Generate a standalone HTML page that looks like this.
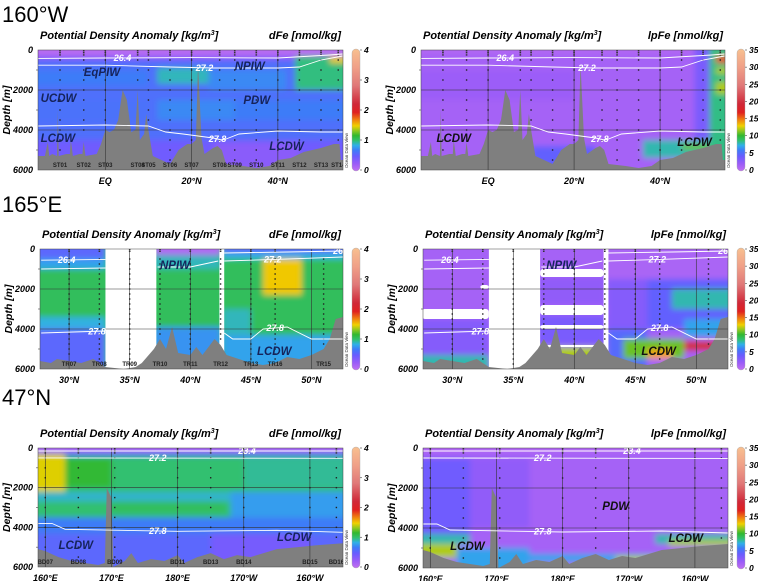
<!DOCTYPE html>
<html><head><meta charset="utf-8"><style>
html,body{margin:0;padding:0;background:#fff;width:758px;height:581px;overflow:hidden}
svg{display:block;font-family:"Liberation Sans",sans-serif}
</style></head><body>
<svg id="fig" width="758" height="581" viewBox="0 0 758 581" xmlns="http://www.w3.org/2000/svg">
<defs><filter id="blur" x="-5%" y="-5%" width="110%" height="110%"><feGaussianBlur stdDeviation="3"/></filter></defs>
<text x="2" y="22" font-size="22">160°W</text>
<text x="2" y="212" font-size="22">165°E</text>
<text x="2" y="405" font-size="22">47°N</text>
</svg>
<script>
// ---------- data ----------
const cmapStops=[[0,'#c070f0'],[0.06,'#9a5cf8'],[0.12,'#6a5cff'],[0.17,'#3e7cf8'],[0.21,'#30b0e8'],[0.25,'#30c070'],[0.29,'#30b830'],[0.33,'#90c820'],[0.37,'#f0d000'],[0.42,'#f08010'],[0.48,'#e02020'],[0.55,'#d02838'],[0.7,'#e07878'],[0.85,'#f0a088'],[1,'#f8c090']];

const depthTicks=[0,2000,4000,6000];
const dFeTicks=[0,1,2,3,4];
const lpFeTicks=[0,5,10,15,20,25,30,35];

// 160°W
const latTicks160=[0,20,40];
const latTickLabels160=['EQ','20°N','40°N'];
const st160Names=['ST01','ST02','ST03','ST04','ST05','ST06','ST07','ST08','ST09','ST10','ST11','ST12','ST13','ST14'];
const st160Lat=[-10.5,-5,0,7.5,10,15,20,26.5,30,35,40,45,50,54];
const bathy160Lat=[-15.6,-14,-13.3,-13,-12.3,-11.2,-11,-10.8,-9,-8.2,-8,-7.5,-6,-5.3,-5,-4.6,-2,-1,0,1,2,3,4,5,6,7,7.5,8,9,9.5,10,11,13,15,17,19,20,21,21.5,22.3,23,25,26,27,28,32,35,38,40,43,46,50,53,54.3,54.6,55.1];
const bathy160Dep=[5300,5300,4600,5300,5200,5300,3000,5300,5200,5200,4500,5300,5200,5200,4600,5300,5200,4700,4000,4100,4000,3500,2000,2500,4100,4000,2000,4500,4200,3200,4000,5300,5500,5700,5000,4700,4700,4500,700,4400,5200,4900,4800,5000,5700,5800,5900,5800,5500,5400,5100,4900,4700,4700,5500,5500];
const c160_264_lat=[-15.6,0,20,40,48,52,55];
const c160_264_dep=[420,400,380,400,300,250,200];
const c160_272_lat=[-15.6,0,15,25,40,45,50,55];
const c160_272_dep=[760,760,850,900,900,850,500,300];
const c160_278_lat=[-15.6,0,10,14,18,25,27,28,31,40,50,55];
const c160_278_dep=[3800,3750,3800,4100,4200,4400,4500,4450,4200,4050,4100,4100];
const f160dFe=[[-16,56,0,6000,0.6],[-16,56,0,300,0.05],[-16,56,300,520,0.35],[-16,10,1000,1800,0.68],[12,24,900,1700,0.9],[24,42,1000,2000,0.72],[44,56,300,2000,0.98],[52,55,350,650,1.5],[-16,10,2500,3500,0.62],[12,30,2500,3500,0.72],[30,56,2500,3500,0.68],[-16,56,4500,6000,0.45],[25,45,4600,6000,0.32]];
const f160lpFe=[[-16,56,0,6000,1.5],[-16,56,0,200,0.8],[-16,20,1000,2500,2],[10,25,4800,6000,4.5],[36,53,4500,5400,8],[45,53,4700,5000,11],[48,51.5,0,4500,3.5],[51.5,55,0,6000,8.5],[53,55,300,650,16],[53,55,900,1200,12],[53,55,1600,2200,12]];

// 165°E
const latTicks165=[30,35,40,45,50];
const latTickLabels165=['30°N','35°N','40°N','45°N','50°N'];
const st165Names=['TR07','TR08','TR09','TR10','TR11','TR12','TR13','TR16','TR15'];
const st165Lat=[30,32.5,35,37.5,40,42.5,45,47,51];
const bathy165Lat=[27.6,28.5,29,30,31,32,33,34.5,35.5,36,37,37.5,38,38.5,39,40,40.5,41,41.5,42,42.5,43,44,45,46,47,48,49,50,51,51.5,52,52.6];
const bathy165Dep=[5600,5700,5500,5600,5700,5500,5900,6000,5900,5700,5000,4500,5000,3900,5200,5300,4900,5300,4900,4500,4800,5300,5500,5700,5800,5700,5400,5500,5300,5000,4500,3500,3400];
const gaps165dFe=[[33,37.2,0,6000],[42.4,42.8,0,6000]];
const gaps165lpFe=[[33,37.2,0,6000],[42.4,42.8,0,6000],[27.5,33,3000,3500],[37.2,42.4,1000,1400],[37.2,42.4,2800,3300],[37.2,42.4,3800,4000],[37.2,42.4,4800,4900],[32.3,33,1800,2000]];
const c165a_lat=[27.7,33];const c165a_dep=[560,520];
const c165b_lat=[27.7,33];const c165b_dep=[1000,950];
const c165c_lat=[27.7,33];const c165c_dep=[4200,4100];
const c165d_lat=[37.3,40,42.3];const c165d_dep=[900,900,600];
const c165e_lat=[42.8,47,52.6];const c165e_dep=[600,520,400];
const c165f_lat=[42.8,43.5,45,46,48,50,52.6];const c165f_dep=[4200,4500,4500,4000,3900,4500,4500];
const c165g_lat=[42.8,48,52.6];const c165g_dep=[200,150,100];
const f165dFe=[[27,53,0,6000,1.05],[27,33,0,500,0.55],[27,33,500,1000,0.8],[27,33,3400,4000,0.85],[27,33,4000,6000,0.55],[37,42.5,0,300,0.1],[37,42.5,300,1000,0.9],[37,42.5,3900,6000,0.75],[42.7,53,0,200,0.55],[42.7,53,200,500,0.85],[46,49.2,500,2300,1.5],[42.7,53,4300,6000,0.8],[42.7,45,3000,4300,0.9]];
const f165lpFe=[[27,53,0,6000,1.5],[27,33,3500,5300,3],[27,33,5300,6000,8],[37,42.5,1400,2800,2.5],[37,42.5,3300,4800,3.5],[37,42.5,4900,6000,12],[42.7,53,0,1500,1.2],[42.7,53,1500,4000,3],[46,53,1500,4000,4.5],[48,53,2000,3000,8],[49,53,3500,4400,7],[42.7,46,4000,6000,5],[44,49,4500,5500,11],[46,48,5000,5500,14],[49,52,4600,5100,20]];

// 47°N (longitude in degrees east)
const lonTicks47=[160,170,180,190,200];
const lonTickLabels47=['160°E','170°E','180°E','170°W','160°W'];
const st47Names=['BD07','BD08','BD09','BD11','BD13','BD14','BD15','BD16'];
const st47Lon=[160,165,170.5,180,185,190,200,204];
const bathy47Lon=[158.9,160,162,164,166,168,169,169.3,170,170.3,172,173,174,176,178,180,181,183,185,187,189,191,193,195,198,201,205];
const bathy47Dep=[5100,5200,5500,5700,5800,5900,5800,2000,2500,6000,5700,5300,5800,5600,5700,5400,5800,5500,5300,5600,5400,5500,5300,5100,5000,4900,4800];
const c47a_lon=[158.9,205];const c47a_dep=[150,150];
const c47b_lon=[158.9,205];const c47b_dep=[500,520];
const c47c_lon=[158.9,161,163,180,195,205];const c47c_dep=[3800,3800,4100,4200,4150,4250];
const f47dFe=[[158,206,0,6000,1.0],[158,206,0,200,0.1],[158,206,200,400,0.6],[163,170,500,2000,1.15],[190,206,500,2000,0.95],[158,206,2200,2700,0.88],[188,206,2200,3500,0.78],[170,187,2700,3200,1.05],[158,206,3500,4300,0.68],[158,206,4300,6000,0.55],[185,200,4300,6000,0.42],[158,163,300,2200,1.45]];
const f47lpFe=[[158,206,0,6000,1.5],[158,206,0,200,0.8],[158,166,500,4300,4],[166,175,500,4000,2.5],[158,166,4300,4800,8],[158,164,4800,5500,12],[164,175,5000,6000,7],[175,196,5300,5700,7],[188,194,5400,5700,12],[194,206,4300,4800,8],[196,206,4600,4900,12]];

// ---------- rendering ----------
const NS='http://www.w3.org/2000/svg';
const svg=document.getElementById('fig');
function mk(tag,attrs,parent,text){const e=document.createElementNS(NS,tag);for(const k in attrs)e.setAttribute(k,attrs[k]);if(text!==undefined)e.textContent=text;(parent||svg).appendChild(e);return e;}
function hex(h){return [1,3,5].map(i=>parseInt(h.substr(i,2),16));}
function cmap(f){f=Math.max(0,Math.min(1,f));for(let i=1;i<cmapStops.length;i++){if(f<=cmapStops[i][0]){const a=cmapStops[i-1],b=cmapStops[i];const t=(f-a[0])/(b[0]-a[0]);const A=hex(a[1]),B=hex(b[1]);return 'rgb('+A.map((v,j)=>Math.round(v+(B[j]-v)*t)).join(',')+')';}}return cmapStops[cmapStops.length-1][1];}
const grad=mk('linearGradient',{id:'cbar',x1:0,y1:1,x2:0,y2:0},svg.querySelector('defs'));
cmapStops.forEach(s=>mk('stop',{offset:s[0],'stop-color':s[1]},grad));
function interp(xs,ds,x){if(x<=xs[0])return ds[0];for(let i=1;i<xs.length;i++)if(x<=xs[i])return ds[i-1]+(ds[i]-ds[i-1])*(x-xs[i-1])/(xs[i]-xs[i-1]);return ds[ds.length-1];}
let pid=0;
function panel(p){
  pid++;
  const W=p.x1-p.x0,H=p.y1-p.y0;
  const sx=x=>p.x0+(x-p.dom[0])/(p.dom[1]-p.dom[0])*W;
  const sy=d=>p.y0+d/6000*H;
  const g=mk('g',{});
  
  
  const cp=mk('clipPath',{id:'cp'+pid},svg.querySelector('defs'));
  mk('rect',{x:p.x0,y:p.y0,width:W,height:H},cp);
  const field=mk('g',{'clip-path':'url(#cp'+pid+')'},g);
  
  
  const fb=mk('g',{filter:'url(#blur)'},field);
  p.fields.forEach(f=>{
    let xa=f[0]<=p.dom[0]+1?f[0]-10:f[0], xb=f[1]>=p.dom[1]-1?f[1]+10:f[1];
    let da=f[2]<=0?-500:f[2], db=f[3]>=6000?6500:f[3];
    const r=mk('rect',{x:sx(xa),y:sy(da),width:sx(xb)-sx(xa),height:sy(db)-sy(da),fill:cmap(f[4]/p.vmax)},fb);
    
    });
  (p.gaps||[]).forEach(gp=>{const da=gp[2]<=0?-500:gp[2],db=gp[3]>=6000?6500:gp[3];
    const r=mk('rect',{x:sx(gp[0]),y:sy(da),width:sx(gp[1])-sx(gp[0]),height:sy(db)-sy(da),fill:'#fff',rx:3},field);
    
    });
  // bathymetry
  let pts=p.bx.map((x,i)=>sx(x).toFixed(1)+','+sy(p.bd[i]).toFixed(1));
  pts.push(sx(p.bx[p.bx.length-1])+','+(p.y1+2));pts.push(sx(p.bx[0])+','+(p.y1+2));
  const bp=mk('polygon',{points:pts.join(' '),fill:'#7f7f7f'},field);
  
  
  // grid
  [2000,4000].forEach(d=>mk('line',{x1:p.x0,x2:p.x1,y1:sy(d),y2:sy(d),stroke:'#333','stroke-width':0.6},field));
  p.xt.forEach(x=>mk('line',{x1:sx(x),x2:sx(x),y1:p.y0,y2:p.y1,stroke:'#333','stroke-width':0.6},field));
  // stations
  p.st.forEach((x,i)=>{const X=sx(x);const maxd=interp(p.bx,p.bd,x)-150;
    const sg=mk('g',{},field);
    
    
    mk('line',{x1:X,x2:X,y1:p.y0,y2:sy(Math.min(p.dense||300,maxd)),stroke:'#333','stroke-width':1.6,'stroke-dasharray':'1.2,0.6'},sg);
    for(let d=500;d<maxd;d+=(p.step||500))mk('rect',{x:X-0.7,y:sy(d)-0.7,width:1.4,height:1.4,fill:'#222'},sg);
    if(p.stLabels){mk('text',{x:X,y:p.y1-3,'font-size':6,'font-weight':'bold','text-anchor':'middle',fill:'#222'},sg,p.stn[i]);}
  });
  // contours
  p.contours.forEach(c=>{const path=c.x.map((x,i)=>(i?'L':'M')+sx(x).toFixed(1)+','+sy(c.d[i]).toFixed(1)).join('');
    const l=mk('path',{d:path,fill:'none',stroke:'#fff','stroke-width':0.9},field);
    
    
    if(c.lx!==undefined){const t=mk('text',{x:sx(c.lx),y:sy(interp(c.x,c.d,c.lx))+3,'font-size':9,'font-weight':'bold','font-style':'italic',fill:'#fff','text-anchor':'middle'},field,c.label);
      
      }
  });
  (p.labels||[]).forEach(l=>{const t=mk('text',{x:sx(l[1]),y:sy(l[2]),'font-size':11.5,'font-weight':'bold','font-style':'italic',fill:l[3]||'#15235a'},field,l[0]);
    
    });
  // frame and axes
  mk('rect',{x:p.x0,y:p.y0,width:W,height:H,fill:'none',stroke:'#444','stroke-width':0.5},g);
  depthTicks.forEach(d=>{const t=mk('text',{x:p.x0-5,y:sy(d)+3,'font-size':9,'font-weight':'bold','font-style':'italic','text-anchor':'end'},g,String(d));
    
    });
  for(let d=1000;d<6000;d+=2000)mk('line',{x1:p.x0-2,x2:p.x0,y1:sy(d),y2:sy(d),stroke:'#444','stroke-width':0.6},g);
  const yt=mk('text',{transform:'translate('+(p.x0-28)+','+(p.y0+H/2)+') rotate(-90)','font-size':10.5,'font-weight':'bold','font-style':'italic','text-anchor':'middle'},g,'Depth [m]');
  
  
  p.xt.forEach((x,i)=>{const t=mk('text',{x:sx(x),y:p.y1+14,'font-size':9,'font-weight':'bold','font-style':'italic','text-anchor':'middle'},g,p.xtl[i]);
    
    });
  const h1=mk('text',{x:p.x0+2,y:p.y0-11,'font-size':11,'font-weight':'bold','font-style':'italic'},g);
  
  
  h1.appendChild(document.createTextNode('Potential Density Anomaly [kg/m'));
  mk('tspan',{'font-size':7,dy:-4},h1,'3');mk('tspan',{dy:4},h1,']');
  const h2=mk('text',{x:p.x1-2,y:p.y0-11,'font-size':11,'font-weight':'bold','font-style':'italic','text-anchor':'end'},g,p.var+' [nmol/kg]');
  
  
  // colorbar
  const cb=mk('g',{},g);
  
  
  mk('rect',{x:p.cbx,y:p.y0-1,width:8,height:H+2,rx:4,fill:'url(#cbar)',stroke:'#aaa','stroke-width':0.4},cb);
  p.cticks.forEach(v=>{const Y=p.y1-v/p.vmax*H;
    mk('line',{x1:p.cbx+8,x2:p.cbx+10,y1:Y,y2:Y,stroke:'#444','stroke-width':0.6},cb);
    const t=mk('text',{x:p.cbx+12,y:Y+3,'font-size':8.5,'font-weight':'bold','font-style':'italic'},cb,String(v));
    
    });
  mk('text',{transform:'translate('+(p.x1+5)+','+(p.y1-2)+') rotate(-90)','font-size':4.5,fill:'#333'},cb,'Ocean Data View');
}
function C(x,d,label,lx){return {x,d,label,lx};}
panel({name:'panel-160w-dfe',x0:38,x1:343,y0:50,y1:170,dom:[-15.6,55.1],vmax:4,var:'dFe',fields:f160dFe,bx:bathy160Lat,bd:bathy160Dep,st:st160Lat,stn:st160Names,stLabels:true,xt:latTicks160,xtl:latTickLabels160,cbx:352,cticks:dFeTicks,
  contours:[C(c160_264_lat,c160_264_dep,'26.4',4),C(c160_272_lat,c160_272_dep,'27.2',23),C(c160_278_lat,c160_278_dep,'27.8',26)],
  labels:[['EqPIW',-5,1300],['NPIW',30,1000],['UCDW',-15,2600],['PDW',32,2700],['LCDW',-15,4600],['LCDW',38,5000]]});
panel({name:'panel-160w-lpfe',x0:421,x1:725,y0:50,y1:170,dom:[-15.6,55.1],vmax:35,var:'lpFe',fields:f160lpFe,bx:bathy160Lat,bd:bathy160Dep,st:st160Lat,stn:st160Names,xt:latTicks160,xtl:latTickLabels160,cbx:737,cticks:lpFeTicks,
  contours:[C(c160_264_lat,c160_264_dep,'26.4',4),C(c160_272_lat,c160_272_dep,'27.2',23),C(c160_278_lat,c160_278_dep,'27.8',26)],
  labels:[['LCDW',-12,4600,'#111'],['LCDW',44,4800,'#111']]});
const c165=[C(c165a_lat,c165a_dep,'26.4',29.8),C(c165b_lat,c165b_dep,'27.2'),C(c165c_lat,c165c_dep,'27.8',32.3),C(c165d_lat,c165d_dep,'27.2'),C(c165e_lat,c165e_dep,'27.2',46.8),C(c165f_lat,c165f_dep,'27.8',47),C(c165g_lat,c165g_dep,'26',52.2)];
panel({name:'panel-165e-dfe',x0:40,x1:343,y0:249,y1:369,dom:[27.6,52.6],vmax:4,var:'dFe',fields:f165dFe,gaps:gaps165dFe,bx:bathy165Lat,bd:bathy165Dep,st:st165Lat,stn:st165Names,stLabels:true,step:250,dense:150,xt:latTicks165,xtl:latTickLabels165,cbx:352,cticks:dFeTicks,
  contours:c165,labels:[['NPIW',37.5,1000],['LCDW',45.5,5300]]});
panel({name:'panel-165e-lpfe',x0:423,x1:728,y0:249,y1:369,dom:[27.6,52.6],vmax:35,var:'lpFe',fields:f165lpFe,gaps:gaps165lpFe,bx:bathy165Lat,bd:bathy165Dep,st:st165Lat,stn:st165Names,step:250,dense:150,xt:latTicks165,xtl:latTickLabels165,cbx:737,cticks:lpFeTicks,
  contours:c165,labels:[['NPIW',37.7,1000],['LCDW',45.5,5300,'#111']]});
const c47=[C(c47a_lon,c47a_dep,'23.4',190.5),C(c47b_lon,c47b_dep,'27.2',177),C(c47c_lon,c47c_dep,'27.8',177)];
panel({name:'panel-47n-dfe',x0:38,x1:343,y0:448,y1:567,dom:[158.9,205],vmax:4,var:'dFe',fields:f47dFe,bx:bathy47Lon,bd:bathy47Dep,st:st47Lon,stn:st47Names,stLabels:true,xt:lonTicks47,xtl:lonTickLabels47,cbx:352,cticks:dFeTicks,
  contours:c47,labels:[['LCDW',162,5100],['LCDW',195,4700]]});
panel({name:'panel-47n-lpfe',x0:423,x1:728,y0:448,y1:568,dom:[158.9,205],vmax:35,var:'lpFe',fields:f47lpFe,bx:bathy47Lon,bd:bathy47Dep,st:st47Lon,stn:st47Names,xt:lonTicks47,xtl:lonTickLabels47,cbx:737,cticks:lpFeTicks,
  contours:c47,labels:[['PDW',186,3100,'#111'],['LCDW',163,5100,'#111'],['LCDW',196,4700,'#111']]});
</script>
</body></html>
